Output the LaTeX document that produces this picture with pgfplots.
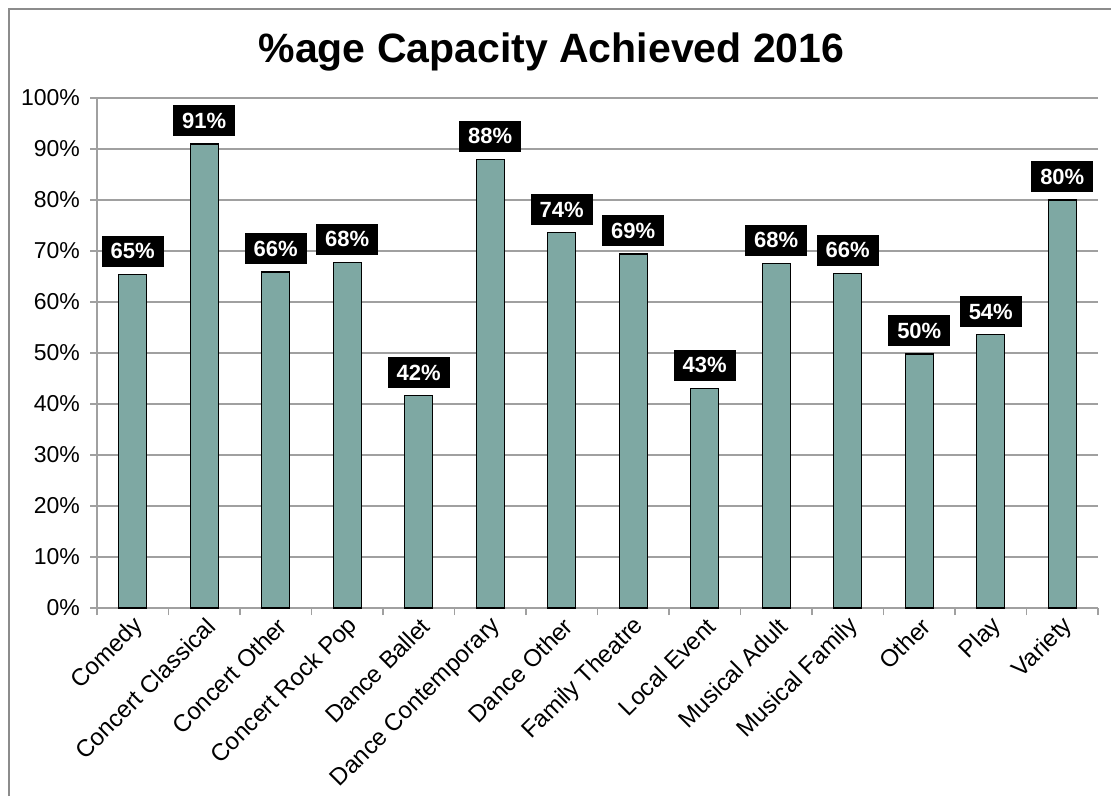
\documentclass[border=0pt]{standalone}
\usepackage{pgfplots}
\pgfplotsset{compat=1.18}
\usepackage{fontspec}
\setmainfont{Liberation Sans}
\definecolor{barfill}{RGB}{126,168,163}
\definecolor{gridc}{RGB}{160,160,160}
\definecolor{framec}{RGB}{140,140,140}
\begin{document}
\begin{tikzpicture}
\useasboundingbox (0,0) rectangle (555.5pt,-398pt);
\fill[white] (0,0) rectangle (555.5pt,-398pt);
\draw[framec, line width=0.8pt] (4.5pt,-398pt) -- (4.5pt,-4.5pt) -- (555.5pt,-4.5pt);
\begin{axis}[
  at={(48.5pt,-304pt)}, anchor=south west,
  scale only axis, width=500.5pt, height=255pt,
  ybar, bar width=14pt,
  xmin=-0.5, xmax=13.5, ymin=0, ymax=100,
  xtick={0,...,13},
  xticklabels={Comedy,Concert Classical,Concert Other,Concert Rock Pop,Dance Ballet,Dance Contemporary,Dance Other,Family Theatre,Local Event,Musical Adult,Musical Family,Other,Play,Variety},
  minor xtick={-0.5,0.5,...,13.5},
  major x tick style={draw=none},
  minor x tick style={gridc, line width=0.6pt},
  minor tick length=3.5pt,
  major tick length=3.5pt,
  tick align=outside,
  ytick={0,10,...,100},
  yticklabel={\pgfmathprintnumber{\tick}\%},
  y tick style={gridc, line width=0.6pt},
  ymajorgrids,
  grid style={gridc, line width=0.6pt},
  axis x line*=bottom, axis y line*=left,
  axis line style={gridc, line width=0.6pt},
  /pgf/number format/assume math mode=true,
  yticklabel style={font=\fontsize{11.5}{13}\selectfont, xshift=-1.5pt},
  xticklabel style={font=\fontsize{12}{14}\selectfont, rotate=45, anchor=east, inner sep=1pt, yshift=-5pt, xshift=1pt},
  title={\%age Capacity Achieved 2016},
  title style={font=\bfseries\fontsize{20.5}{25}\selectfont, anchor=base, yshift=12pt, xshift=-23pt},
  nodes near coords={\pgfmathprintnumber[fixed,precision=0]{\pgfplotspointmeta}\%},
  nodes near coords style={fill=black, text=white, font=\bfseries\fontsize{11}{12}\selectfont, inner xsep=4.5pt, inner ysep=0pt, minimum height=15.5pt, anchor=south, yshift=3.5pt},
]
\addplot[fill=barfill, draw=black, line width=0.6pt] coordinates {
(0,65.4) (1,91.0) (2,65.9) (3,67.8) (4,41.6) (5,88.0) (6,73.6)
(7,69.4) (8,43.1) (9,67.6) (10,65.6) (11,49.8) (12,53.6) (13,80.0)};
\end{axis}
\end{tikzpicture}
\end{document}
